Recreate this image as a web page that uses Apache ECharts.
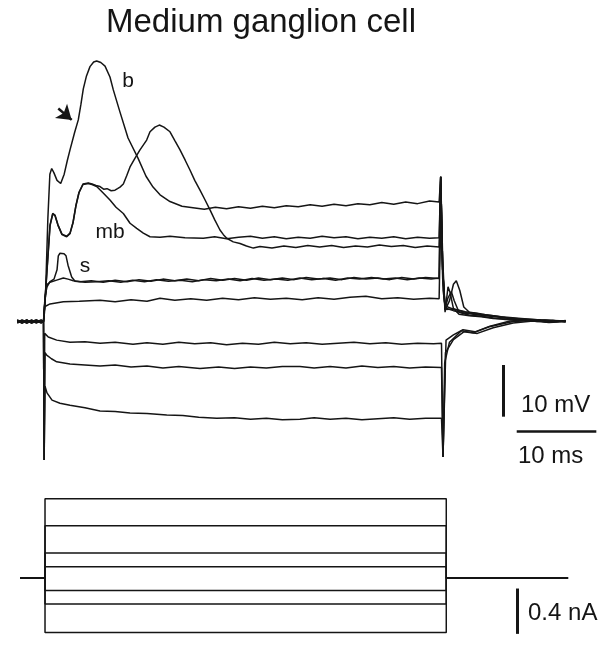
<!DOCTYPE html>
<html>
<head>
<meta charset="utf-8">
<script src="https://cdn.jsdelivr.net/npm/echarts@6/dist/echarts.min.js"></script>
<style>html,body{margin:0;padding:0;background:#fff}#c{width:608px;height:646px}</style>
</head>
<body>
<div id="c"></div>
<script>
// ---- Data (time in ms from pulse onset, voltage in mV relative to rest) ----
const traceNames = ['b', 'delayed', 'mb', 's', 'sub1', 'sub2', 'hyp1', 'hyp2', 'hyp3'];

const trace_b = [[-3.3,0.3],[-2.7,-0.2],[-2.1,0.2],[-1.5,-0.3],[-0.9,0.1],[-0.3,-0.2],[0.0,0.0],
[0.25,5.0],[0.55,20.0],[0.8,28.5],[1.03,29.6],[1.3,28.8],[1.7,27.3],[2.16,26.7],[2.6,28.5],[3.0,31.2],[3.33,33.2],[3.9,36.5],[4.37,39.0],[4.7,42.0],[5.0,45.0],[5.4,47.5],[5.84,49.3],[6.3,50.2],[6.68,50.4],[7.2,50.1],[7.73,49.4],[8.35,47.3],[8.77,44.8],[9.61,40.5],[10.62,35.5],[11.87,31.6],[12.88,28.1],[13.76,26.0],[14.64,24.5],[15.89,23.2],[17.4,22.3],[18.78,22.0],
[20.2,21.7],[21.6,22.1],[23.0,21.8],[24.5,22.2],[26.0,21.9],[27.5,22.3],[29.0,22.0],[30.5,22.4],[32.0,22.2],[33.5,22.6],[35.0,22.3],[36.5,22.7],[38.0,22.4],[39.5,22.8],[41.0,22.6],[42.5,23.0],[44.0,22.7],[45.5,23.1],[47.0,22.8],[48.5,23.3],[49.7,23.1],
[49.9,28.0],[50.15,12.0],[50.45,2.2],[51.0,4.0],[51.5,7.2],[51.86,7.9],[52.3,6.0],[52.8,2.8],[53.5,1.8],[54.5,1.6],[55.5,1.3],[57.0,1.0],[58.5,0.6],[60.0,0.5],[61.5,0.2],[63.0,0.3],[64.5,0.0],[65.6,0.2]];

const trace_delayed = [[-3.3,-0.2],[-2.7,0.3],[-2.1,-0.1],[-1.5,0.2],[-0.9,-0.3],[-0.3,0.2],[0.0,0.0],
[0.19,4.2],[0.44,10.0],[0.82,18.7],[1.16,20.9],[1.44,20.6],[1.82,18.7],[2.32,16.9],[2.91,16.5],[3.33,17.1],[3.71,19.2],[4.08,22.5],[4.46,25.0],[4.96,26.6],[5.63,26.8],[6.09,26.6],[6.6,26.3],[7.1,26.1],[7.55,25.6],[7.98,25.7],[8.5,25.3],[8.98,25.4],[9.3,25.7],[9.61,26.0],[10.03,26.6],[10.45,28.2],[10.87,29.9],[11.5,31.6],[12.12,33.2],[12.96,35.1],[13.38,36.7],[14.0,37.6],[14.55,38.0],[15.13,37.6],[15.89,36.7],[16.5,35.0],[17.15,33.2],[17.8,31.2],[18.4,29.3],[19.0,27.3],[19.66,25.4],[20.3,23.5],[20.92,21.6],[21.5,19.7],[22.17,17.7],[22.6,16.8],[23.02,16.1],[23.84,15.4],[24.69,15.1],[25.5,14.6],[26.36,14.2],[27.2,14.5],
[28.7,14.2],[30.2,14.6],[31.7,14.3],[33.2,14.7],[34.7,14.4],[36.2,14.7],[37.7,14.3],[39.2,14.6],[40.7,14.4],[42.2,14.8],[43.7,14.5],[45.2,14.7],[46.7,14.3],[48.2,14.6],[49.7,14.4],
[49.9,28.0],[50.15,10.0],[50.45,1.8],[50.65,4.5],[50.82,6.7],[51.1,5.5],[51.5,2.5],[52.2,1.4],[53.5,1.1],[55.0,0.9],[56.5,0.6],[58.0,0.5],[60.0,0.3],[62.0,0.1],[64.0,0.2],[65.6,-0.1]];

const trace_mb = [[-3.3,0.1],[-2.7,-0.3],[-2.1,0.2],[-1.5,0.0],[-0.9,0.3],[-0.3,-0.1],[0.0,0.0],
[0.19,4.0],[0.44,9.8],[0.82,18.5],[1.16,20.8],[1.44,20.5],[1.82,18.6],[2.32,16.8],[2.91,16.4],[3.33,17.0],[3.71,19.1],[4.08,22.4],[4.46,24.9],[4.96,26.5],[5.63,26.7],[6.1,26.5],[6.68,26.1],[7.47,24.9],[8.35,23.5],[9.11,22.1],[10.03,20.9],[10.87,19.0],[11.71,18.0],[12.54,17.1],[13.38,16.4],[14.64,16.3],[15.89,16.5],[17.78,16.2],[20.08,16.1],
[21.5,16.4],[23.0,16.0],[24.5,16.3],[26.0,16.5],[27.5,16.1],[29.0,16.4],[30.5,16.0],[32.0,16.3],[33.5,16.1],[35.0,16.5],[36.5,16.2],[38.0,16.4],[39.5,16.0],[41.0,16.3],[42.5,16.1],[44.0,16.4],[45.5,16.0],[47.0,16.3],[48.5,16.1],[49.7,16.2],
[49.9,28.0],[50.15,10.0],[50.45,2.5],[50.8,4.5],[51.23,5.8],[51.6,4.0],[52.2,1.8],[53.5,1.2],[55.0,1.0],[56.5,0.7],[58.0,0.4],[60.0,0.3],[62.0,0.0],[64.0,0.2],[65.6,0.0]];

const trace_s = [[-3.3,-0.1],[-2.7,0.2],[-2.1,-0.3],[-1.5,0.1],[-0.9,-0.1],[-0.3,0.3],[0.0,0.0],
[0.19,4.8],[0.44,6.7],[0.82,7.7],[1.32,8.2],[1.70,10.0],[1.86,12.7],[2.07,13.2],[2.32,12.9],[2.58,13.1],[2.83,12.7],[3.08,10.9],[3.54,8.6],[3.96,7.8],[4.59,7.7],
[6.0,7.9],[7.5,7.6],[9.0,8.0],[10.5,7.7],[12.0,8.1],[13.5,7.8],[15.0,8.2],[16.5,7.9],[18.0,8.2],[19.5,7.9],[21.0,8.3],[22.5,8.0],[24.0,8.3],[25.5,8.0],[27.0,8.4],[28.5,8.1],[30.0,8.4],[31.5,8.1],[33.0,8.5],[34.5,8.2],[36.0,8.4],[37.5,8.1],[39.0,8.5],[40.5,8.2],[42.0,8.4],[43.5,8.1],[45.0,8.5],[46.5,8.2],[48.0,8.5],[49.7,8.3],
[49.9,28.0],[50.15,10.0],[50.45,2.6],[51.5,2.1],[53.0,1.6],[55.0,1.2],[57.5,0.8],[60.0,0.4],[62.5,0.2],[65.6,0.1]];

const trace_sub1 = [[-3.3,0.2],[-2.7,-0.1],[-2.1,0.3],[-1.5,-0.2],[-0.9,0.2],[-0.3,-0.3],[0.0,0.0],
[0.19,4.2],[0.4,7.1],[0.82,7.6],[1.66,8.0],[2.49,8.4],[3.08,8.2],[3.74,7.9],[5.21,7.6],[6.68,7.7],
[8.2,7.9],[9.7,7.6],[11.2,8.0],[12.7,7.7],[14.2,8.1],[15.7,7.8],[17.2,8.0],[18.7,7.7],[20.2,8.1],[21.7,7.9],[23.2,8.2],[24.7,7.9],[26.2,8.3],[27.7,8.0],[29.2,8.2],[30.7,8.0],[32.2,8.4],[33.7,8.1],[35.2,8.3],[36.7,8.0],[38.2,8.4],[39.7,8.2],[41.2,8.5],[42.7,8.2],[44.2,8.4],[45.7,8.1],[47.2,8.4],[48.7,8.2],[49.7,8.4],
[49.9,28.0],[50.15,10.0],[50.45,2.3],[51.5,2.4],[53.0,1.8],[55.0,1.3],[57.5,0.8],[60.0,0.5],[62.5,0.3],[65.6,0.0]];

const trace_sub2 = [[-3.3,-0.3],[-2.7,0.1],[-2.1,-0.2],[-1.5,0.3],[-0.9,-0.2],[-0.3,0.1],[0.0,0.0],
[0.06,0.7],[0.19,2.9],[0.82,3.4],[2.49,3.8],[4.5,3.9],[7.1,4.1],[9.0,3.8],[11.0,4.2],[13.0,3.9],[14.64,4.5],[16.5,4.1],[18.5,4.4],[20.5,4.1],[22.5,4.5],[24.5,4.2],[26.5,4.6],[28.5,4.3],[30.5,4.5],[32.5,4.2],[34.5,4.6],[36.5,4.3],[38.5,4.7],[40.5,4.9],[42.5,4.4],[44.5,4.6],[46.5,4.3],[48.5,4.5],[49.7,4.4],
[49.9,20.0],[50.2,6.0],[50.45,3.0],[51.5,2.4],[53.0,1.9],[55.0,1.4],[57.5,0.9],[60.0,0.6],[62.5,0.3],[65.6,0.1]];

const trace_hyp1 = [[-3.3,0.3],[-2.7,-0.3],[-2.1,0.1],[-1.5,-0.1],[-0.9,0.3],[-0.3,-0.2],[0.0,0.0],
[0.08,-26.8],[0.15,-2.3],[0.6,-3.0],[1.66,-3.6],[3.33,-4.0],[5.2,-3.9],[7.1,-4.2],[9.0,-4.0],[11.24,-4.4],[13.0,-4.1],[15.0,-4.4],[17.0,-4.0],[19.0,-4.3],[21.0,-4.1],[23.0,-4.5],[25.0,-4.2],[27.0,-4.4],[29.0,-4.0],[31.0,-4.3],[33.0,-4.1],[35.0,-4.4],[37.0,-4.2],[39.0,-4.0],[41.0,-4.3],[43.0,-4.1],[45.0,-4.4],[47.0,-4.2],[49.0,-4.3],[50.0,-4.2],
[50.19,-26.2],[50.57,-3.6],[51.5,-2.6],[52.7,-1.6],[54.2,-2.0],[56.1,-0.9],[58.6,0.1],[61.0,0.3],[63.5,-0.1],[65.6,0.1]];

const trace_hyp2 = [[-3.3,-0.2],[-2.7,0.2],[-2.1,-0.3],[-1.5,0.2],[-0.9,0.0],[-0.3,0.2],[0.0,0.0],
[0.08,-26.8],[0.2,-6.0],[0.4,-6.5],[1.0,-7.2],[1.66,-7.8],[3.33,-8.2],[5.2,-8.4],[7.1,-8.6],[9.0,-8.4],[11.0,-8.8],[13.0,-8.6],[15.0,-9.0],[17.0,-8.7],[19.66,-9.1],[22.0,-8.8],[24.0,-9.1],[26.0,-8.8],[28.0,-9.0],[30.0,-8.7],[32.22,-8.7],[34.0,-9.0],[36.0,-8.7],[38.0,-9.0],[40.0,-8.6],[42.0,-8.9],[44.0,-8.7],[46.0,-9.0],[48.0,-8.8],[50.0,-8.9],
[50.19,-26.2],[50.5,-6.0],[51.5,-3.5],[52.8,-2.0],[54.5,-2.3],[56.5,-1.2],[59.0,-0.3],[61.5,0.1],[63.5,-0.2],[65.6,0.0]];

const trace_hyp3 = [[-3.3,0.1],[-2.7,-0.2],[-2.1,0.3],[-1.5,-0.3],[-0.9,0.1],[-0.3,-0.1],[0.0,0.0],
[0.08,-26.8],[0.19,-12.5],[0.44,-13.8],[1.07,-15.2],[2.07,-15.8],[3.33,-16.2],[5.21,-16.7],[7.1,-17.3],[9.0,-17.4],[10.87,-17.7],[13.0,-17.8],[15.48,-18.1],[17.5,-18.2],[19.5,-18.5],[21.76,-18.7],[24.0,-18.6],[26.0,-18.9],[28.0,-18.7],[30.0,-19.0],[32.22,-18.9],[34.0,-18.6],[36.0,-18.9],[38.0,-18.7],[40.0,-19.0],[42.0,-18.8],[44.0,-18.6],[46.0,-18.9],[48.0,-18.7],[50.0,-18.7],
[50.19,-26.2],[50.4,-8.0],[51.0,-4.0],[52.5,-1.8],[54.0,-2.2],[56.0,-1.0],[59.0,0.0],[61.5,0.2],[63.5,-0.1],[65.6,0.1]];

const voltageTraces = [trace_b, trace_delayed, trace_mb, trace_s, trace_sub1, trace_sub2, trace_hyp1, trace_hyp2, trace_hyp3];

// Injected current steps (nA)
const currentLevels = [0.70, 0.46, 0.22, 0.10, -0.11, -0.23, -0.48];
const stepOn = 0.19, stepOff = 50.6, recStart = -2.95, recEnd = 65.9;

// Scale bars
const scaleV = 10;   // mV
const scaleT = 10;   // ms
const scaleI = 0.4;  // nA

// ---- Chart ----
const chart = echarts.init(document.getElementById('c'), null, {renderer: 'canvas'});
const ink = '#151515';
const FONT = '"Liberation Sans", Arial, Helvetica, sans-serif';

const series = [];
voltageTraces.forEach((d, i) => {
  series.push({
    name: traceNames[i], type: 'line', xAxisIndex: 0, yAxisIndex: 0,
    data: d, showSymbol: false, symbol: 'none', smooth: false, silent: true,
    lineStyle: {color: ink, width: 1.5}, z: 2
  });
});
currentLevels.forEach((I) => {
  series.push({
    type: 'line', xAxisIndex: 1, yAxisIndex: 1, showSymbol: false, symbol: 'none', silent: true,
    data: [[recStart, 0], [stepOn, 0], [stepOn, I], [stepOff, I], [stepOff, 0], [recEnd, 0]],
    lineStyle: {color: ink, width: 1.5}
  });
});

// scale bars and arrow via markLine in data coordinates
const tBar = 57.73, vBarTop = -8.41;
series.push({
  type: 'line', xAxisIndex: 0, yAxisIndex: 0, data: [], silent: true,
  markLine: {
    silent: true, animation: false, symbol: ['none', 'none'], label: {show: false},
    lineStyle: {color: ink, type: 'solid', width: 3},
    data: [
      [{coord: [tBar, vBarTop]}, {coord: [tBar, vBarTop - scaleV]}],
      [{coord: [59.45, -21.3], lineStyle: {width: 2.5}}, {coord: [59.45 + scaleT, -21.3]}],
      [{coord: [1.86, 41.2], symbol: 'none', lineStyle: {width: 2.5}}, {coord: [3.54, 39.0], symbol: 'arrow', symbolSize: 14}]
    ]
  }
});
series.push({
  type: 'line', xAxisIndex: 1, yAxisIndex: 1, data: [], silent: true,
  markLine: {
    silent: true, animation: false, symbol: ['none', 'none'], label: {show: false},
    lineStyle: {color: ink, type: 'solid', width: 3},
    data: [[{coord: [59.5, -0.093]}, {coord: [59.5, -0.093 - scaleI]}]]
  }
});

const txt = (text, x, y, size, align) => ({
  type: 'text', x: x, y: y, silent: true,
  style: {text: text, fill: ink, font: size + 'px ' + FONT, textAlign: align || 'left', textVerticalAlign: 'middle'}
});

chart.setOption({
  animation: false,
  backgroundColor: '#ffffff',
  grid: [
    {left: 3.7, width: 597, top: 32, height: 444.6},
    {left: 3.7, width: 597, top: 487.3, height: 161}
  ],
  xAxis: [
    {type: 'value', gridIndex: 0, min: -5, max: 70, show: false},
    {type: 'value', gridIndex: 1, min: -5, max: 70, show: false}
  ],
  yAxis: [
    {type: 'value', gridIndex: 0, min: -30, max: 56, show: false},
    {type: 'value', gridIndex: 1, min: -0.6, max: 0.8, show: false}
  ],
  graphic: [
    txt('Medium ganglion cell', 261, 23, 33, 'center'),
    txt('b', 128, 81, 21, 'center'),
    txt('mb', 110, 232, 21, 'center'),
    txt('s', 85, 266, 21, 'center'),
    txt('10 mV', 521, 405, 24, 'left'),
    txt('10 ms', 518, 456, 24, 'left'),
    txt('0.4 nA', 528, 613, 24, 'left')
  ],
  series: series
});
</script>
</body>
</html>
